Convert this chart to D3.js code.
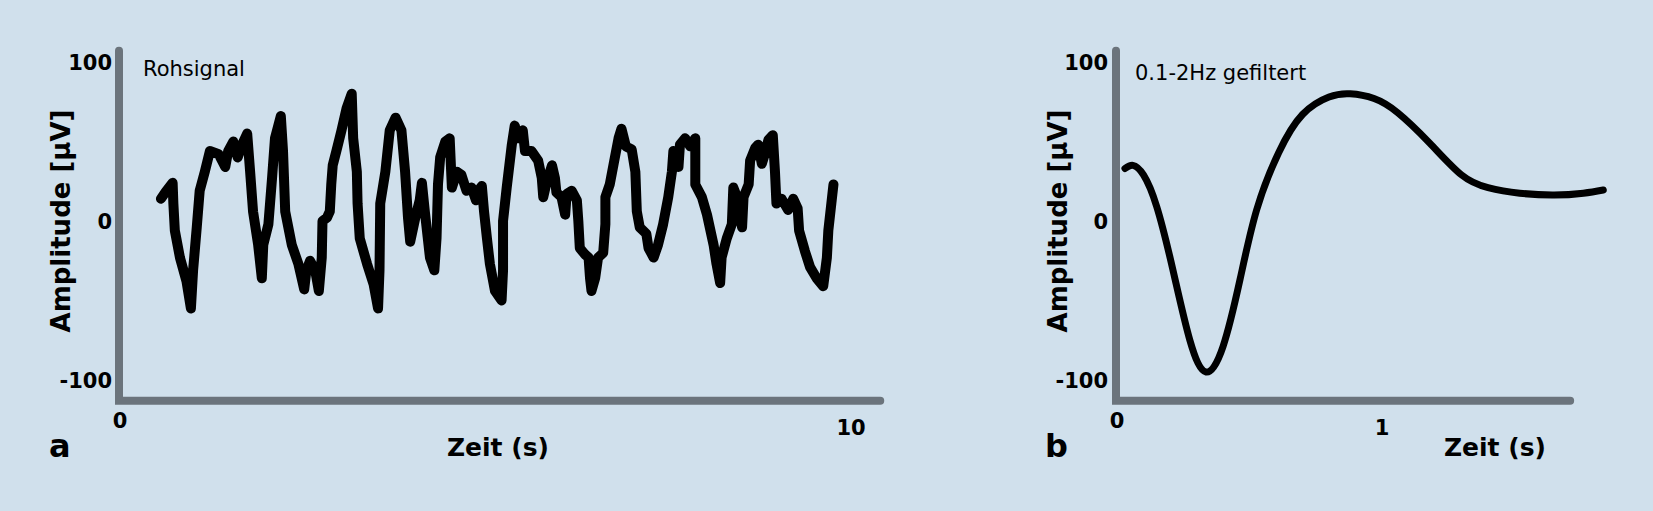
<!DOCTYPE html>
<html>
<head>
<meta charset="utf-8">
<script src="https://cdn.jsdelivr.net/npm/d3@7"></script>
<style>
  html, body { margin: 0; padding: 0; background: #d0e0ec; }
  svg { display: block; }
  text { font-family: "DejaVu Sans", Verdana, sans-serif; fill: #000; }
</style>
</head>
<body>
<svg id="chart" width="1653" height="511"></svg>
<script>
// ---- Data ----
// Panel a: raw EEG signal (time in s, amplitude in µV)
const rawTime = [0.56,0.62,0.72,0.73,0.75,0.82,0.91,0.97,1.00,1.05,1.09,1.16,1.23,1.35,1.44,1.48,1.55,1.61,1.67,1.74,
  1.78,1.82,1.89,1.94,1.96,2.03,2.08,2.12,2.20,2.23,2.26,2.35,2.44,2.52,2.55,2.60,2.67,2.72,2.76,2.77,
  2.83,2.87,2.89,2.91,2.96,3.03,3.10,3.17,3.19,3.24,3.25,3.28,3.38,3.47,3.53,3.55,3.56,3.63,3.69,3.77,
  3.85,3.90,3.94,3.97,4.04,4.10,4.13,4.17,4.24,4.30,4.33,4.34,4.35,4.38,4.45,4.51,4.54,4.61,4.67,4.74,
  4.81,4.87,4.90,4.95,4.98,5.02,5.06,5.13,5.22,5.24,5.24,5.29,5.36,5.40,5.45,5.51,5.54,5.63,5.72,5.77,
  5.79,5.84,5.91,5.95,5.97,6.04,6.09,6.11,6.18,6.25,6.27,6.29,6.36,6.41,6.43,6.45,6.50,6.54,6.61,6.64,
  6.64,6.70,6.77,6.82,6.86,6.92,7.00,7.05,7.07,7.11,7.20,7.23,7.30,7.36,7.43,7.50,7.55,7.57,7.61,7.64,
  7.66,7.73,7.80,7.87,7.87,7.96,8.03,8.12,8.16,8.21,8.23,8.30,8.37,8.39,8.44,8.51,8.53,8.60,8.62,8.69,
  8.73,8.78,8.82,8.87,8.93,8.96,8.98,9.05,9.14,9.21,9.27,9.29,9.37,9.44,9.53,9.62,9.67,9.69,9.76];
const rawAmp = [14,18,24,11,-6,-23,-38,-55,-31,-4,19,31,44,42,34,44,50,40,48,55,
  31,6,-15,-36,-15,-2,27,52,66,44,6,-15,-27,-43,-31,-25,-31,-44,-23,0,
  2,6,23,35,44,57,71,80,52,31,11,-11,-27,-40,-55,-31,11,31,57,65,
  57,31,2,-13,2,13,24,6,-23,-31,-11,6,23,40,50,52,21,31,29,19,
  21,13,19,22,6,-11,-27,-44,-50,-31,0,21,48,60,52,57,44,44,38,27,
  15,25,35,27,18,15,4,17,19,13,0,-17,-21,-23,-36,-44,-36,-23,-20,-2,
  15,23,40,52,58,47,45,31,6,-4,-8,-17,-23,-15,-2,15,31,44,42,34,
  48,52,47,52,23,15,4,-15,-27,-39,-23,-11,-2,21,15,-4,15,23,38,46,
  48,36,42,51,54,31,11,14,7,14,8,-6,-19,-29,-36,-41,-23,-6,23];

// Panel b: 0.1–2 Hz filtered signal
const filtTime = [0.03,0.06,0.10,0.15,0.21,0.275,0.336,0.40,0.464,0.527,0.61,0.70,0.80,0.88,0.97,1.06,1.18,1.30,1.40,1.52,1.65,1.76,1.835];
const filtAmp  = [33,35,29,9,-30,-75,-95,-79,-37,7,43,67,78,80,77,68,49,29,21,17.5,16.3,17.5,19.5];

// Ticks / labels
const yTicks = [100, 0, -100];
const xTicksA = [0, 10];
const xTicksB = [0, 1];
const panelTitles = ["Rohsignal", "0.1-2Hz gefiltert"];
const panelLetters = ["a", "b"];
const yLabel = "Amplitude [µV]";
const xLabel = "Zeit (s)";

// ---- Layout ----
const svg = d3.select("#chart");
svg.append("rect").attr("width", 1653).attr("height", 511).attr("fill", "#d0e0ec");

const AXIS_COLOR = "#6b747c";

const panels = [
  { x: d3.scaleLinear().domain([0, 10]).range([120, 851]),
    xAxisEnd: 10.4, xTicks: xTicksA, time: rawTime, amp: rawAmp,
    lw: 10, smooth: false, title: panelTitles[0], titleX: 143, titleY: 76,
    letter: panelLetters[0], letterX: 49, ylabX: 70, xlabX: 498, yTickRight: 112 },
  { x: d3.scaleLinear().domain([0, 1]).range([1117, 1382]),
    xAxisEnd: 1.71, xTicks: xTicksB, time: filtTime, amp: filtAmp,
    lw: 7, smooth: true, title: panelTitles[1], titleX: 1135, titleY: 80,
    letter: panelLetters[1], letterX: 1045, ylabX: 1067, xlabX: 1495, yTickRight: 1108 }
];
const y = d3.scaleLinear().domain([-100, 100]).range([380, 62]);
const yAxisTop = 107, yAxisBottom = -113;

panels.forEach(p => {
  const g = svg.append("g");
  const x0 = p.x(0) - 1;
  // axes (L shape)
  g.append("path")
    .attr("d", `M${x0},${y(yAxisTop)} L${x0},${y(yAxisBottom)} L${p.x(p.xAxisEnd)},${y(yAxisBottom)}`)
    .attr("fill", "none").attr("stroke", AXIS_COLOR).attr("stroke-width", 8)
    .attr("stroke-linecap", "round").attr("stroke-linejoin", "miter");

  // y tick labels
  g.selectAll(".yt").data(yTicks).enter().append("text")
    .attr("x", p.yTickRight).attr("y", d => y(d))
    .attr("dy", "0.36em")
    .attr("text-anchor", "end").attr("font-weight", "bold").attr("font-size", 21)
    .text(d => d);

  // x tick labels
  g.selectAll(".xt").data(p.xTicks).enter().append("text")
    .attr("x", d => p.x(d)).attr("y", d => d === 0 ? 428 : 435)
    .attr("text-anchor", "middle").attr("font-weight", "bold").attr("font-size", 21)
    .text(d => d);

  // y label
  g.append("text")
    .attr("transform", `translate(${p.ylabX},${y(0)}) rotate(-90)`)
    .attr("text-anchor", "middle").attr("font-weight", "bold").attr("font-size", 26)
    .text(yLabel);

  // x label
  g.append("text")
    .attr("x", p.xlabX).attr("y", 456)
    .attr("text-anchor", "middle").attr("font-weight", "bold").attr("font-size", 25)
    .text(xLabel);

  // panel letter
  g.append("text")
    .attr("x", p.letterX).attr("y", 457)
    .attr("font-weight", "bold").attr("font-size", 32)
    .text(p.letter);

  // title
  g.append("text")
    .attr("x", p.titleX).attr("y", p.titleY)
    .attr("font-size", 21)
    .text(p.title);

  // signal line
  const data = p.time.map((t, i) => [t, p.amp[i]]);
  const line = d3.line()
    .x(d => p.x(d[0])).y(d => y(d[1]))
    .curve(p.smooth ? d3.curveNatural : d3.curveLinear);
  g.append("path").datum(data)
    .attr("d", line)
    .attr("fill", "none").attr("stroke", "#000")
    .attr("stroke-width", p.lw)
    .attr("stroke-linejoin", "round").attr("stroke-linecap", "round");
});
</script>
</body>
</html>
